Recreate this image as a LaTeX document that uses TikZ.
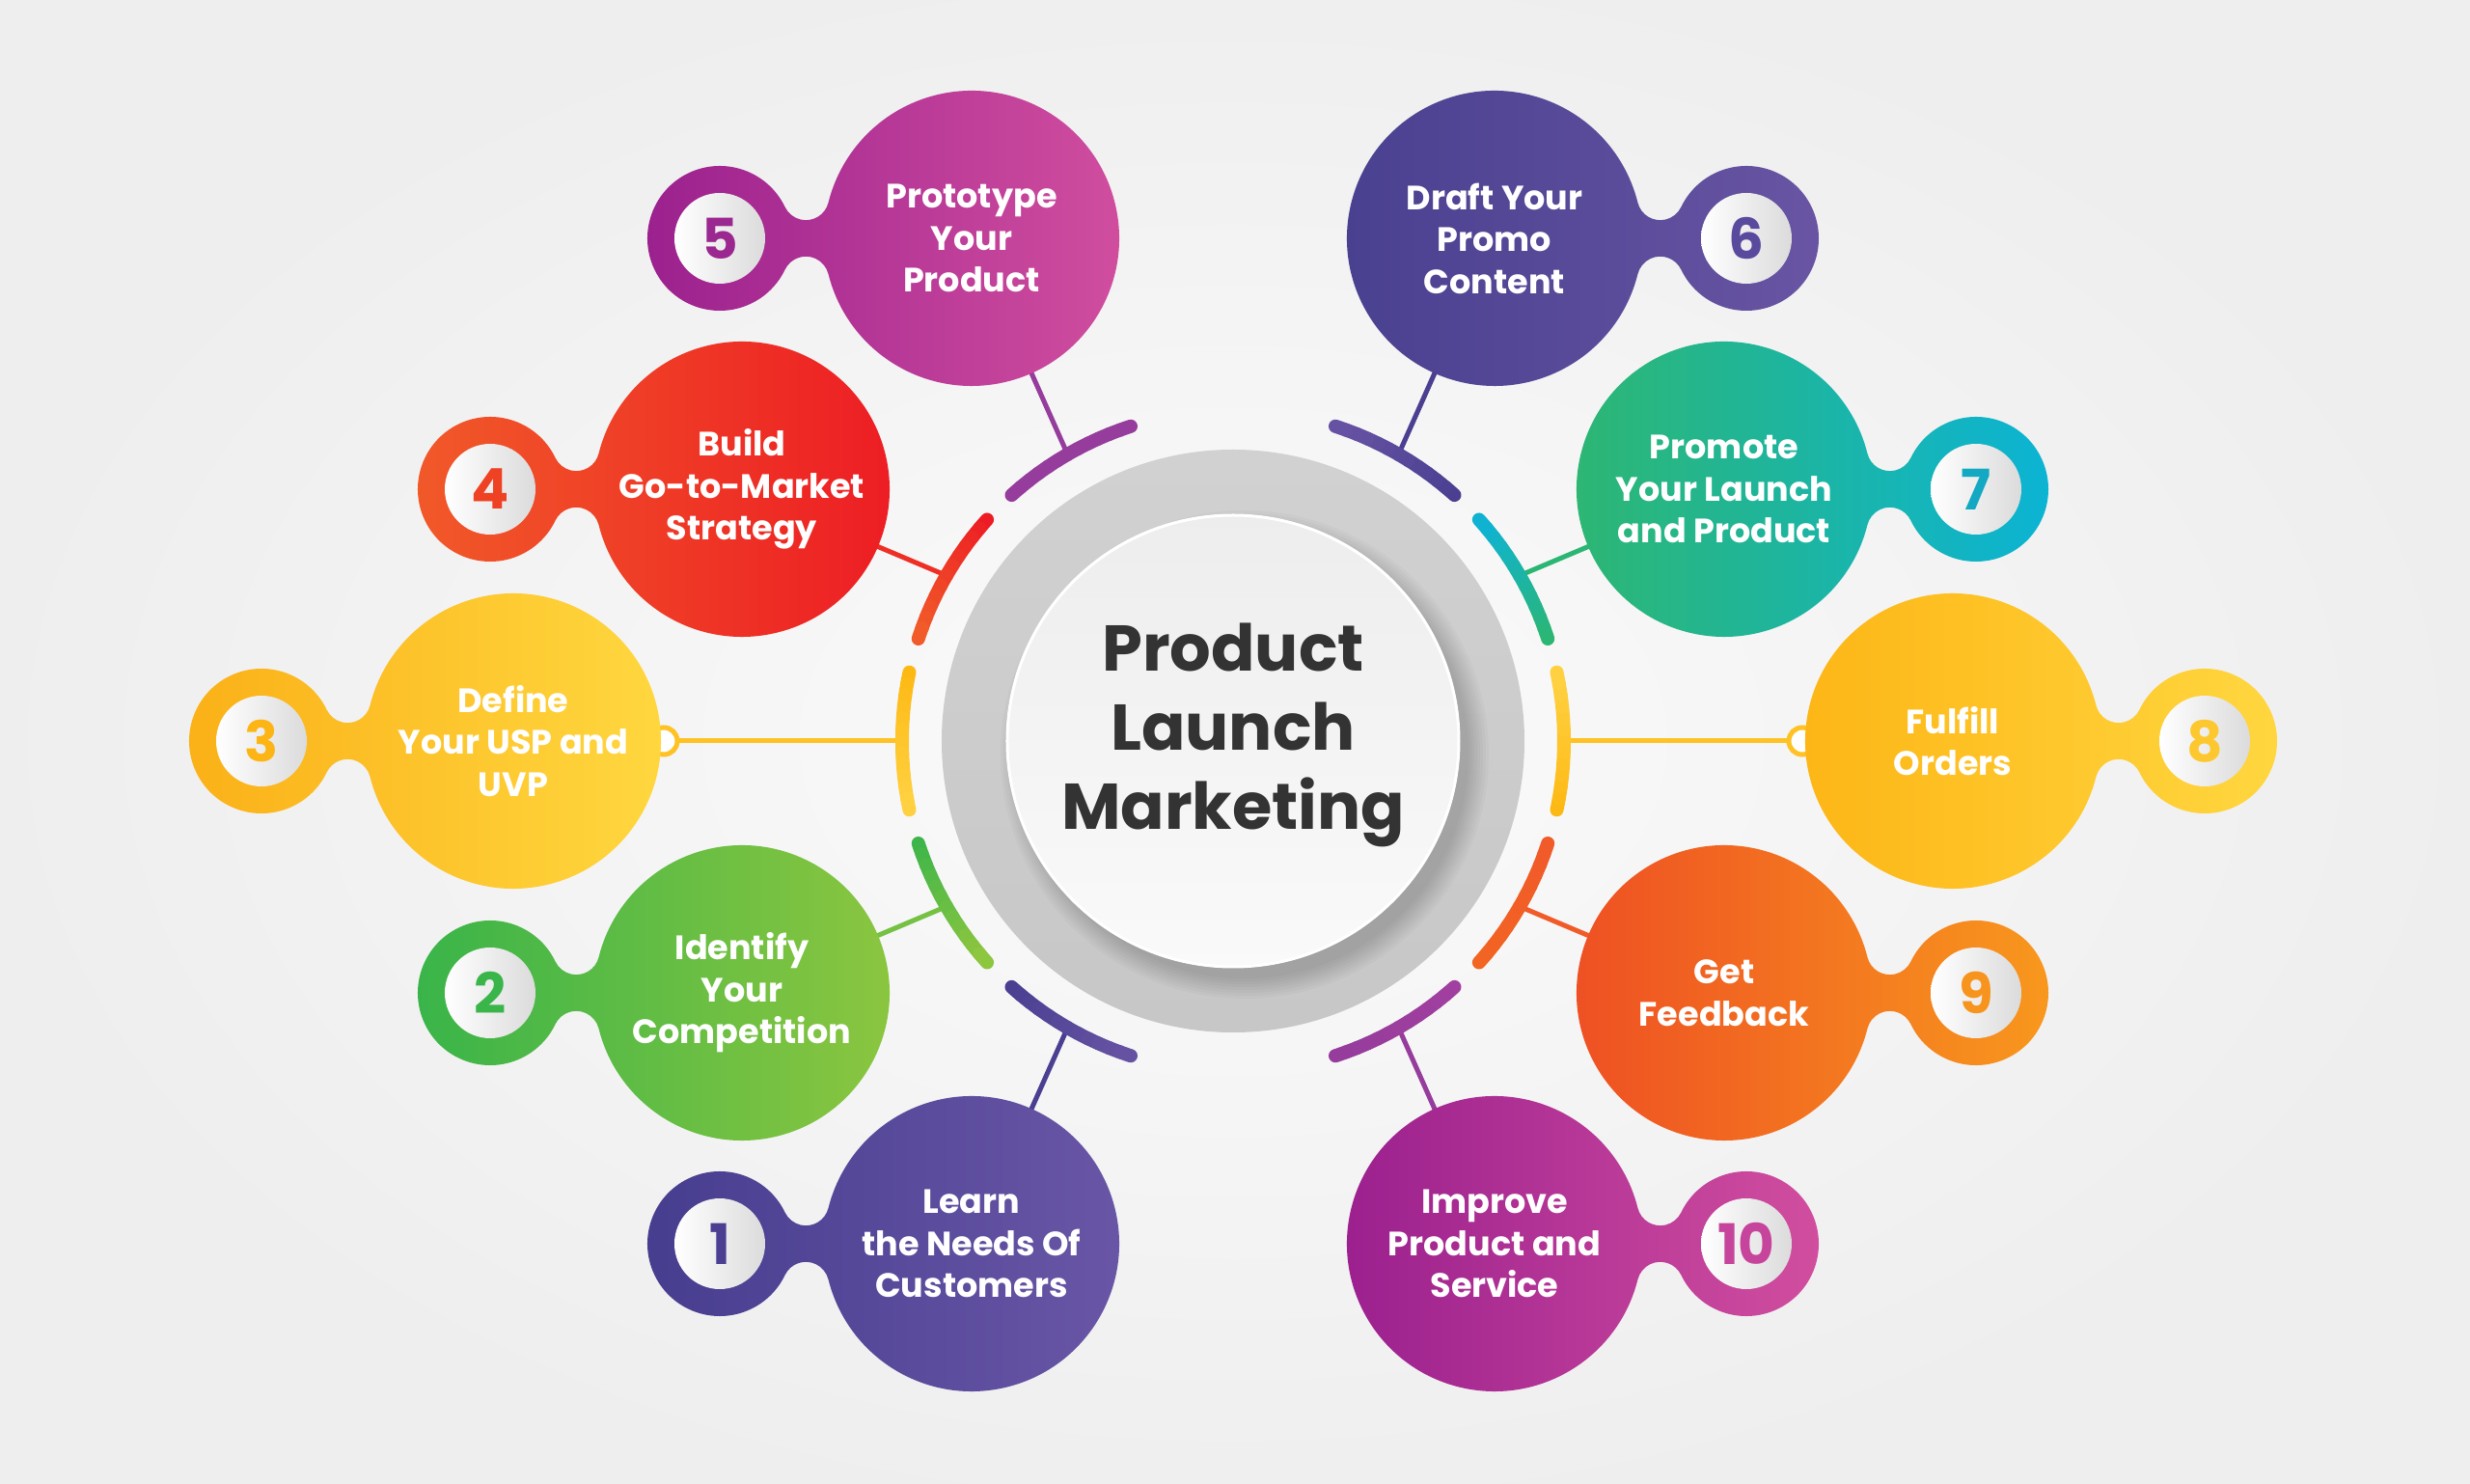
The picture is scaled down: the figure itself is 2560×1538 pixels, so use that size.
\documentclass[tikz,border=0pt]{standalone}
\usepackage{fontspec}
\setmainfont{Poppins}
\usetikzlibrary{calc}
\definecolor{bgout}{HTML}{EEEEEE}
\definecolor{bgin}{HTML}{FBFBFB}
\definecolor{titlegray}{HTML}{333333}
% item colours (page-left colour, page-right colour)
\definecolor{cA}{HTML}{463D8F}\definecolor{cAr}{HTML}{6A56A6}
\definecolor{cB}{HTML}{38B449}\definecolor{cBr}{HTML}{8DC63F}
\definecolor{cC}{HTML}{FBB017}\definecolor{cCr}{HTML}{FFD840}
\definecolor{cD}{HTML}{F15A29}\definecolor{cDr}{HTML}{ED1C24}
\definecolor{cE}{HTML}{9A208E}\definecolor{cEr}{HTML}{D24F9F}
\definecolor{cF}{HTML}{48408F}\definecolor{cFr}{HTML}{6955A3}
\definecolor{cG}{HTML}{2EB670}\definecolor{cGr}{HTML}{0BB4D6}
\definecolor{cH}{HTML}{FDB515}\definecolor{cHr}{HTML}{FFD740}
\definecolor{cI}{HTML}{EE4E23}\definecolor{cIr}{HTML}{F8991D}
\definecolor{cJ}{HTML}{9A1F8E}\definecolor{cJr}{HTML}{D24F9F}
% number colours
\definecolor{nA}{HTML}{4B3F91}\definecolor{nB}{HTML}{3AB54A}
\definecolor{nC}{HTML}{FDB515}\definecolor{nD}{HTML}{EF4123}
\definecolor{nE}{HTML}{9B2790}\definecolor{nF}{HTML}{5A4A9E}
\definecolor{nG}{HTML}{13A9C2}\definecolor{nH}{HTML}{FDC82F}
\definecolor{nI}{HTML}{F7941D}\definecolor{nJ}{HTML}{C6449C}
% line / arc colours
\definecolor{lPur}{HTML}{953C9C}\definecolor{lPurB}{HTML}{A03F9F}
\definecolor{lRed}{HTML}{ED1C24}\definecolor{lOra}{HTML}{F15A29}
\definecolor{lYel}{HTML}{FDB913}\definecolor{lYelB}{HTML}{FFD040}
\definecolor{lGre}{HTML}{3DB54A}\definecolor{lGreB}{HTML}{8DC63F}
\definecolor{lInd}{HTML}{4A3F91}\definecolor{lIndB}{HTML}{6652A2}
\definecolor{lTea}{HTML}{2BB673}\definecolor{lCya}{HTML}{0FB3D1}
\definecolor{lOr2}{HTML}{F26522}\definecolor{lOr3}{HTML}{F15A29}

% blob: small circle at (#1,#2), big circle at distance 261 in direction #3
\newcommand\blob[5]{%
  \begin{scope}[shift={(#1,#2)}, xscale=#3]
    \shade[left color=#4, right color=#5]
      (67.62,32.44) arc[start angle=25.63, end angle=334.37, radius=75]
      arc[start angle=154.4, end angle=14.0, radius=24]
      arc[start angle=194.0, end angle=526.0, radius=153]
      arc[start angle=-14.0, end angle=-154.4, radius=24] -- cycle;
  \end{scope}}
% ring arc: centre angle #1, colour at (#1-12) is #2, at (#1+12) is #3
\newcommand\ringarc[3]{%
  \foreach \k in {0,...,11}{%
    \pgfmathsetmacro\aa{#1-12+2*\k}%
    \pgfmathtruncatemacro\pc{100-\k*100/11}%
    \draw[line width=14, line cap=round, color=#3!\pc!#2]
      (\aa:343) arc[start angle=\aa, delta angle=2, radius=343];
  }}

\begin{document}
\begin{tikzpicture}[x=1pt, y=1pt,
  bignode/.style={circle, minimum size=306, inner sep=0},
  itemtext/.style={text=white, align=center, font=\fontsize{35}{43.5}\selectfont\bfseries},
  numdisc/.style={circle, minimum size=94, inner sep=0, left color=white, right color=black!14,
     font=\fontsize{58}{60}\selectfont\bfseries},
  conn/.style={line width=5},
  enddot/.style={line width=5, fill=white},
  titletext/.style={text=titlegray, align=center, font=\fontsize{67}{82}\selectfont\bfseries}]

\useasboundingbox (-1278,-770) rectangle (1282,768);
% background
\fill[bgout] (-1278,-770) rectangle (1282,768);
\shade[inner color=bgin, outer color=bgout] (0,0) ellipse[x radius=1300, y radius=820];

% centre
\coordinate (O) at (0,0);
\shade[top color=black!18, bottom color=black!22] (O) circle[radius=302];
\foreach \r in {0,3,...,21}{
  \fill[black, opacity=0.025] (12,-14) circle[radius=232+\r];
}
\shade[top color=black!7, bottom color=black!2] (O) circle[radius=235];
\draw[white, line width=3] (O) circle[radius=234];
\node[titletext] (title) at (0,6) {Product\\Launch\\Marketing};

% big circle anchors
\node[bignode] (b1) at (-271,-521) {};
\node[bignode] (b2) at (-509,-261) {};
\node[bignode] (b3) at (-746,0) {};
\node[bignode] (b4) at (-509,261) {};
\node[bignode] (b5) at (-271,521) {};
\node[bignode] (b6) at (271,521) {};
\node[bignode] (b7) at (509,261) {};
\node[bignode] (b8) at (746,0) {};
\node[bignode] (b9) at (509,-261) {};
\node[bignode] (b10) at (271,-521) {};

% arc anchors
\coordinate (a1) at (240:343);
\coordinate (a2) at (210:343);
\coordinate (a3) at (180:343);
\coordinate (a4) at (150:343);
\coordinate (a5) at (120:343);
\coordinate (a6) at (60:343);
\coordinate (a7) at (30:343);
\coordinate (a8) at (0:343);
\coordinate (a9) at (-30:343);
\coordinate (a10) at (-60:343);

% connectors
\draw[conn, lInd] (a1) -- (b1.center);
\draw[conn, lGreB!70!lGre] (a2) -- (b2.center);
\draw[conn, lYel!60!lYelB] (a3) -- (b3.center);
\draw[conn, lRed!70!lOra] (a4) -- (b4.center);
\draw[conn, lPur] (a5) -- (b5.center);
\draw[conn, lInd] (a6) -- (b6.center);
\draw[conn, lTea] (a7) -- (b7.center);
\draw[conn, lYel!60!lYelB] (a8) -- (b8.center);
\draw[conn, lOra] (a9) -- (b9.center);
\draw[conn, lPur] (a10) -- (b10.center);
\coordinate (d3) at (-590,0);
\coordinate (d8) at (590,0);
\draw[enddot, draw=lYel!60!lYelB] (d3) circle[radius=14];
\draw[enddot, draw=lYel!60!lYelB] (d8) circle[radius=14];

% ring arcs
\ringarc{240}{lIndB}{lInd}
\ringarc{210}{lGreB}{lGre}
\ringarc{180}{lYelB}{lYel}
\ringarc{150}{lOra}{lRed}
\ringarc{120}{lPur}{lPur}
\ringarc{60}{lIndB}{lInd}
\ringarc{30}{lCya}{lTea}
\ringarc{0}{lYelB}{lYel}
\ringarc{-30}{lOr3}{lOr2}
\ringarc{-60}{lPurB}{lPur}

% blobs
\blob{-532}{-521}{1}{cA}{cAr}
\blob{-770}{-261}{1}{cB}{cBr}
\blob{-1007}{0}{1}{cC}{cCr}
\blob{-770}{261}{1}{cD}{cDr}
\blob{-532}{521}{1}{cE}{cEr}
\blob{532}{521}{-1}{cF}{cFr}
\blob{770}{261}{-1}{cG}{cGr}
\blob{1007}{0}{-1}{cH}{cHr}
\blob{770}{-261}{-1}{cI}{cIr}
\blob{532}{-521}{-1}{cJ}{cJr}

% numbers
\node[numdisc, text=nA] (n1) at (-532,-521) {1};
\node[numdisc, text=nB] (n2) at (-770,-261) {2};
\node[numdisc, text=nC] (n3) at (-1007,0) {3};
\node[numdisc, text=nD] (n4) at (-770,261) {4};
\node[numdisc, text=nE] (n5) at (-532,521) {5};
\node[numdisc, text=nF] (n6) at (532,521) {6};
\node[numdisc, text=nG] (n7) at (770,261) {7};
\node[numdisc, text=nH] (n8) at (1007,0) {8};
\node[numdisc, text=nI] (n9) at (770,-261) {9};
\node[numdisc, text=nJ] (n10) at (532,-521) {10};

% texts
\node[itemtext] (t1) at (b1) {Learn\\the Needs Of\\Customers};
\node[itemtext] (t2) at (b2) {Identify\\Your\\Competition};
\node[itemtext] (t3) at (b3) {Define\\Your USP and\\UVP};
\node[itemtext] (t4) at (b4) {Build\\Go-to-Market\\Strategy};
\node[itemtext] (t5) at (b5) {Prototype\\Your\\Product};
\node[itemtext] (t6) at (b6) {Draft Your\\Promo\\Content};
\node[itemtext] (t7) at (b7) {Promote\\Your Launch\\and Product};
\node[itemtext] (t8) at (b8) {Fulfill\\Orders};
\node[itemtext] (t9) at (b9) {Get\\Feedback};
\node[itemtext] (t10) at (b10) {Improve\\Product and\\Service};
\end{tikzpicture}
\end{document}
